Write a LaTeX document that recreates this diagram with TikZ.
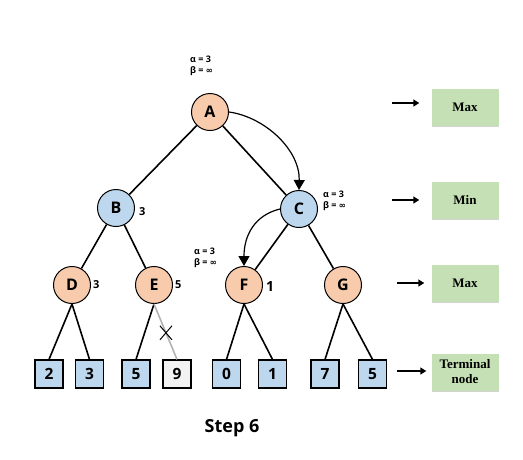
\documentclass[tikz,border=0pt]{standalone}
\usepackage{fontspec}
\setmainfont{Open Sans}
\newfontfamily\serifbox{Liberation Serif}
\newfontfamily\symf{DejaVu Sans}
\usetikzlibrary{arrows.meta,shadows}
\definecolor{orangefill}{HTML}{F8CBAD}
\definecolor{bluefill}{HTML}{BDD7EE}
\definecolor{greenfill}{HTML}{C5E0B4}
\definecolor{grayfill}{HTML}{F2F2F2}
\tikzset{
  maxnode/.style={circle,draw,line width=1pt,fill=orangefill,minimum size=37pt,inner sep=0pt,font=\fontsize{16}{16}\selectfont\bfseries},
  minnode/.style={circle,draw,line width=1pt,fill=bluefill,minimum size=37pt,inner sep=0pt,font=\fontsize{16}{16}\selectfont\bfseries},
  leaf/.style={rectangle,draw,line width=1.2pt,fill=bluefill,minimum size=28pt,inner sep=0pt,font=\fontsize{15.5}{15.5}\selectfont\bfseries},
  edge/.style={line width=1.6pt},
  ab/.style={align=left,font=\fontsize{9}{10.5}\selectfont\bfseries,inner sep=0pt},
  val/.style={font=\fontsize{11}{11}\selectfont\bfseries,inner sep=0pt,anchor=west},
  lvl/.style={rectangle,fill=greenfill,minimum width=67pt,minimum height=37pt,inner sep=0pt,align=center,
    font=\serifbox\fontsize{13}{15}\selectfont\bfseries,drop shadow={shadow xshift=0.5pt,shadow yshift=-1.5pt,opacity=0.35}},
  lvlarrow/.style={-{Triangle[length=6pt,width=7pt]},line width=2pt},
  curvearrow/.style={-{Triangle[length=10pt,width=11pt]},line width=1.2pt},
}
\begin{document}
\begin{tikzpicture}[x=1pt,y=-1pt]
\useasboundingbox (0,0) rectangle (523,459);
% internal nodes
\node[maxnode] (A) at (210,112) {A};
\node[minnode] (B) at (116,208) {B};
\node[minnode] (C) at (299,209) {C};
\node[maxnode] (D) at (72,285) {D};
\node[maxnode] (E) at (154,285) {E};
\node[maxnode] (F) at (244,285) {F};
\node[maxnode] (G) at (343,285) {G};
% leaves
\node[leaf] (L1) at (49,374) {2};
\node[leaf] (L2) at (89.5,374) {3};
\node[leaf] (L3) at (136,374) {5};
\node[leaf,fill=grayfill] (L4) at (177,374) {9};
\node[leaf] (L5) at (226.5,374) {0};
\node[leaf] (L6) at (272.5,374) {1};
\node[leaf] (L7) at (325,374) {7};
\node[leaf] (L8) at (372.5,374) {5};
% edges
\draw[edge] (A) -- (B);
\draw[edge] (A) -- (C);
\draw[edge] (B) -- (D);
\draw[edge] (B) -- (E);
\draw[edge] (C) -- (F);
\draw[edge] (C) -- (G);
\draw[edge] (D.south) -- (L1.north);
\draw[edge] (D.south) -- (L2.north);
\draw[edge] (E.south) -- (L3.north);
\draw[line width=1.6pt,gray!60] (E.south) -- coordinate[pos=0.52] (cut) (L4.north);
\draw[line width=1pt] ([shift={(-6,-7)}]cut) -- ([shift={(6,7)}]cut);
\draw[line width=1pt] ([shift={(-6,7)}]cut) -- ([shift={(6,-7)}]cut);
\draw[edge] (F.south) -- (L5.north);
\draw[edge] (F.south) -- (L6.north);
\draw[edge] (G.south) -- (L7.north);
\draw[edge] (G.south) -- (L8.north);
% values
\node[val] (vB) at (139,212) {3};
\node[val] (vD) at (93,285) {3};
\node[val] (vE) at (175,285) {5};
\node[val,font=\fontsize{14}{14}\selectfont\bfseries] (vF) at (266,286) {1};
% alpha beta labels
\node[ab,anchor=west] (abA) at (190,66) {α = 3\\β = {\symf\fontsize{8.5}{8.5}\selectfont\bfseries ∞}};
\node[ab,anchor=west] (abC) at (323,201) {α = 3\\β = {\symf\fontsize{8.5}{8.5}\selectfont\bfseries ∞}};
\node[ab,anchor=west] (abF) at (194,258) {α = 3\\β = {\symf\fontsize{8.5}{8.5}\selectfont\bfseries ∞}};
% curved arrows
\draw[curvearrow] (A.east) .. controls (265,117) and (300,150) .. (C.north);
\draw[curvearrow] (C.west) .. controls (255,215) and (244,235) .. (F.north);
% level boxes
\node[lvl] (M1) at (465,107) {Max};
\node[lvl] (M2) at (465,200) {Min};
\node[lvl] (M3) at (465,283) {Max};
\node[lvl] (M4) at (465,372) {Terminal\\node};
\coordinate (s1) at (392,103);
\coordinate (s2) at (392,200);
\coordinate (s3) at (397,283);
\coordinate (s4) at (397,371);
\draw[lvlarrow] (s1) -- ([xshift=-12pt]M1.west |- s1);
\draw[lvlarrow] (s2) -- ([xshift=-12pt]M2.west |- s2);
\draw[lvlarrow] (s3) -- ([xshift=-7pt]M3.west |- s3);
\draw[lvlarrow] (s4) -- ([xshift=-5pt]M4.west |- s4);
\node[font=\fontsize{18}{18}\selectfont\bfseries] (step) at (232,428) {Step 6};
\end{tikzpicture}
\end{document}
